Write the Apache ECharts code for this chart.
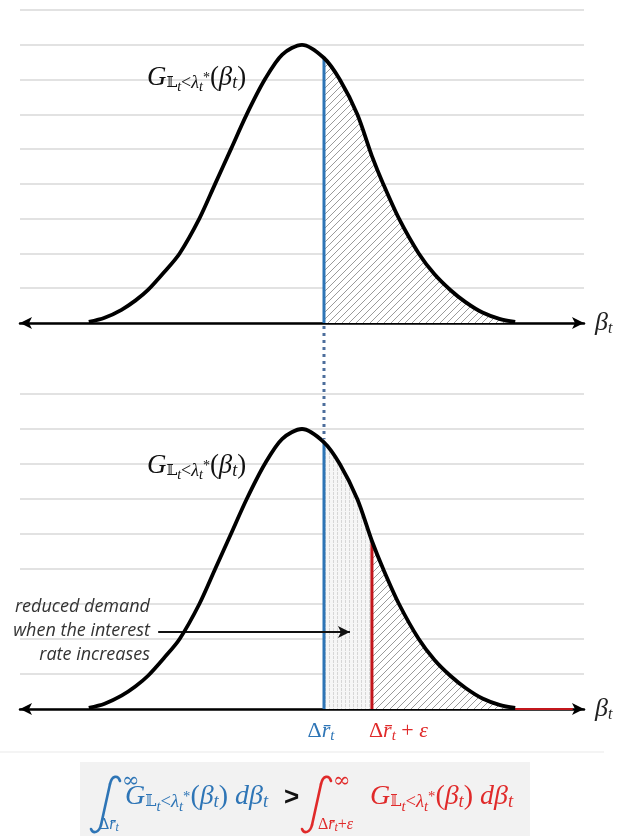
<!DOCTYPE html>
<html><head><meta charset="utf-8">
<script src="https://cdn.jsdelivr.net/npm/echarts/dist/echarts.min.js"></script>
<style>html,body{margin:0;padding:0;background:#fff}#c{width:619px;height:836px}</style>
</head><body><div id="c"></div>
<script>
// ---- data (x: 0..100 along the axis, y: gridline units 0..9) ----
const curveX = [12.2, 15, 18, 20.5, 22.7, 25.5, 28.3, 31.8, 34.6, 37.4, 40.2, 43.4, 46.5, 50, 53.9, 56.7, 59.8, 62.4, 64.4, 67.2, 70.7, 73.5, 76.3, 79, 82, 85, 87.8];
const curveY = [0.03, 0.15, 0.38, 0.65, 0.95, 1.45, 2, 3, 4, 5, 6, 7, 7.72, 8, 7.62, 7, 6, 4.8, 4, 3, 2, 1.4, 0.95, 0.6, 0.3, 0.12, 0.03];
const blueX = 53.9;      // Δr̄_t
const redX = 62.4;       // Δr̄_t + ε
const axisEndX = 98;     // end of red axis segment (lower panel)
const arrowFrom = [24.5, 2.2];  // annotation arrow (lower panel)
const arrowTo = [58.5, 2.2];
const yTicks = [0, 1, 2, 3, 4, 5, 6, 7, 8, 9];

const BLUE = '#2e75b6', RED = '#e02a2a', LINE_RED = '#c3161c';

const pts = curveX.map((x, i) => [x, curveY[i]]);
const yAt = x => curveY[curveX.indexOf(x)];

function makeHatch() {
  const n = 7;
  const c = document.createElement('canvas'); c.width = n; c.height = n;
  const g = c.getContext('2d');
  g.fillStyle = '#fff'; g.fillRect(0, 0, n, n);
  g.strokeStyle = '#9a9a9a'; g.lineWidth = 1;
  g.beginPath(); g.moveTo(0, n); g.lineTo(n, 0); g.moveTo(-1, 1); g.lineTo(1, -1); g.moveTo(n - 1, n + 1); g.lineTo(n + 1, n - 1); g.stroke();
  return c;
}
function makeStipple() {
  const c = document.createElement('canvas'); c.width = 4; c.height = 4;
  const g = c.getContext('2d');
  g.fillStyle = '#f6f6f6'; g.fillRect(0, 0, 4, 4);
  g.fillStyle = '#d6d6d6'; g.fillRect(1, 0, 1, 3);
  return c;
}
const hatch = { image: makeHatch(), repeat: 'repeat' };
const stipple = { image: makeStipple(), repeat: 'repeat' };

const serif = 'Liberation Serif';
function xAx(gi) {
  return {
    gridIndex: gi, type: 'value', min: 0, max: 100,
    axisLine: { show: true, onZero: false, symbol: ['arrow', 'arrow'], symbolSize: [9, 12], lineStyle: { color: '#000', width: 2.5 } },
    axisTick: { show: false }, axisLabel: { show: false }, splitLine: { show: false },
    name: '{b|β}{s|t}', nameLocation: 'end', nameGap: 11,
    nameTextStyle: { rich: {
      b: { fontFamily: serif, fontStyle: 'italic', fontSize: 26, color: '#222', lineHeight: 28, verticalAlign: 'middle' },
      s: { fontFamily: serif, fontStyle: 'italic', fontSize: 16, color: '#222', lineHeight: 15, verticalAlign: 'bottom' }
    } }
  };
}
function yAx(gi) {
  return {
    gridIndex: gi, type: 'value', min: yTicks[0], max: yTicks[yTicks.length - 1], interval: 1,
    axisLine: { show: false }, axisTick: { show: false }, axisLabel: { show: false },
    splitLine: { show: true, lineStyle: { color: '#d9d9d9', width: 1.5 } }
  };
}
function curve(gi) {
  return { type: 'line', xAxisIndex: gi, yAxisIndex: gi, data: pts, smooth: 0.3, symbol: 'none', silent: true,
    lineStyle: { color: '#000', width: 3.8 }, z: 6 };
}
function area(gi, from, to, pattern) {
  return { type: 'line', xAxisIndex: gi, yAxisIndex: gi, data: pts.filter(p => p[0] >= from && p[0] <= to),
    smooth: 0.3, symbol: 'none', silent: true, lineStyle: { width: 0 }, areaStyle: { color: pattern, opacity: 1 }, z: 2 };
}
function vline(gi, x, color) {
  return { type: 'line', xAxisIndex: gi, yAxisIndex: gi, data: [[x, 0], [x, yAt(x)]], symbol: 'none', silent: true,
    lineStyle: { color: color, width: 3 }, z: 4 };
}

const chart = echarts.init(document.getElementById('c'), null, { renderer: 'canvas' });
chart.setOption({
  animation: false,
  backgroundColor: '#fff',
  grid: [
    { left: 20, width: 564, top: 10, height: 313, outerBoundsMode: 'none', containLabel: false },
    { left: 20, width: 564, top: 394, height: 315, outerBoundsMode: 'none', containLabel: false }
  ],
  xAxis: [xAx(0), xAx(1)],
  yAxis: [yAx(0), yAx(1)],
  series: [
    area(0, blueX, 1000, hatch),
    vline(0, blueX, BLUE),
    curve(0),
    area(1, blueX, redX, stipple),
    area(1, redX, 1000, hatch),
    vline(1, blueX, BLUE),
    vline(1, redX, LINE_RED),
    { type: 'line', xAxisIndex: 1, yAxisIndex: 1, data: [[curveX[curveX.length - 1], 0], [axisEndX, 0]], symbol: 'none', silent: true,
      lineStyle: { color: LINE_RED, width: 2 }, z: 5,
      markLine: { silent: true, symbol: ['none', 'arrow'], symbolSize: [9, 12], label: { show: false },
        lineStyle: { color: '#111', width: 2, type: 'solid' },
        data: [[{ coord: arrowFrom }, { coord: arrowTo }]] } },
    curve(1)
  ]
});

// ---- annotations ----
function gRich(color, k) {
  return {
    G: { fontFamily: serif, fontStyle: 'italic', fontSize: 21 * k, lineHeight: 26 * k, verticalAlign: 'middle', fill: color },
    u: { fontFamily: serif, fontStyle: 'normal', fontSize: 21 * k, lineHeight: 26 * k, verticalAlign: 'middle', fill: color },
    L: { fontFamily: 'DejaVu Serif', fontSize: 12 * k, lineHeight: 12 * k, verticalAlign: 'bottom', padding: [0, 0, 3 * k, 0], fill: color },
    s: { fontFamily: serif, fontStyle: 'italic', fontSize: 14 * k, lineHeight: 14 * k, verticalAlign: 'bottom', padding: [0, 0, 2 * k, 0], fill: color },
    lt: { fontFamily: serif, fontSize: 14 * k, lineHeight: 14 * k, verticalAlign: 'bottom', padding: [0, 0, 2 * k, 0], fill: color },
    ss: { fontFamily: serif, fontStyle: 'italic', fontSize: 11 * k, lineHeight: 11 * k, verticalAlign: 'bottom', fill: color },
    sup: { fontFamily: serif, fontSize: 11 * k, lineHeight: 11 * k, verticalAlign: 'middle', fill: color }
  };
}
const gText = '{G|G}{L|𝕃}{ss|t}{lt|<}{s|λ}{ss|t}{sup|*}{u|(}{G|β}{s|t}{u|)}';
const dText = '{u| }{G|dβ}{s|t}';

const p0 = chart.convertToPixel({ gridIndex: 0 }, [blueX, 0]);
const p1 = chart.convertToPixel({ gridIndex: 1 }, [blueX, yAt(blueX)]);
const lb = chart.convertToPixel({ gridIndex: 1 }, [blueX, 0]);
const lr = chart.convertToPixel({ gridIndex: 1 }, [redX, 0]);

const limRich = (color) => ({
  D: { fontFamily: serif, fontSize: 22, fill: color, lineHeight: 26, verticalAlign: 'middle' },
  r: { fontFamily: serif, fontStyle: 'italic', fontSize: 22, fill: color, lineHeight: 26, verticalAlign: 'middle' },
  t: { fontFamily: serif, fontStyle: 'italic', fontSize: 15, fill: color, lineHeight: 15, verticalAlign: 'bottom' },
  e: { fontFamily: serif, fontSize: 22, fill: color, lineHeight: 26, verticalAlign: 'middle' },
  small: { fontFamily: serif, fontSize: 16, fill: color, lineHeight: 18, verticalAlign: 'middle' },
  smalli: { fontFamily: serif, fontStyle: 'italic', fontSize: 16, fill: color, lineHeight: 18, verticalAlign: 'middle' },
  st: { fontFamily: serif, fontStyle: 'italic', fontSize: 12, fill: color, lineHeight: 12, verticalAlign: 'bottom' }
});

const sansI = { fontFamily: 'Open Sans', fontStyle: 'italic', fontSize: 18 };
function integral(x, y, color) {
  const st = { stroke: color, fill: null, lineWidth: 2.6, lineCap: 'round' };
  return { type: 'group', x: x, y: y, silent: true, children: [
    { type: 'bezierCurve', z: 5, shape: { x1: 31, y1: 5, cpx1: 29, cpy1: -1, cpx2: 23, cpy2: -1, x2: 21, y2: 8 }, style: st },
    { type: 'line', z: 5, shape: { x1: 21, y1: 8, x2: 12, y2: 49 }, style: st },
    { type: 'bezierCurve', z: 5, shape: { x1: 12, y1: 49, cpx1: 10, cpy1: 57, cpx2: 4, cpy2: 58, x2: 2, y2: 53 }, style: st }
  ] };
}

chart.setOption({
  graphic: [
    { type: 'line', silent: true, z: 1, shape: { x1: 0, y1: 752, x2: 604, y2: 752 }, style: { stroke: '#f0f0f0', lineWidth: 1.5 } },
    { type: 'line', silent: true, z: 10, shape: { x1: p0[0], y1: p0[1] + 3, x2: p1[0], y2: p1[1] - 3 },
      style: { stroke: '#4d6e9c', lineWidth: 3, lineDash: [3, 4] } },
    { type: 'text', silent: true, x: 147, y: 78, style: { text: gText, rich: gRich('#111', 1.28), verticalAlign: 'middle' } },
    { type: 'text', silent: true, x: 147, y: 466, style: { text: gText, rich: gRich('#111', 1.28), verticalAlign: 'middle' } },
    { type: 'text', silent: true, x: 150, y: 607, style: Object.assign({ text: 'reduced demand', fill: '#333', align: 'right', verticalAlign: 'middle' }, sansI) },
    { type: 'text', silent: true, x: 150, y: 631, style: Object.assign({ text: 'when the interest', fill: '#333', align: 'right', verticalAlign: 'middle' }, sansI) },
    { type: 'text', silent: true, x: 150, y: 655, style: Object.assign({ text: 'rate increases', fill: '#333', align: 'right', verticalAlign: 'middle' }, sansI) },
    { type: 'text', silent: true, x: lb[0] - 3, y: lb[1] + 22, style: { text: '{D|Δ}{r|r\u0304}{t|t}', rich: limRich(BLUE), align: 'center', verticalAlign: 'middle' } },
    { type: 'text', silent: true, x: lr[0] - 3, y: lr[1] + 22, style: { text: '{D|Δ}{r|r\u0304}{t|t}{e| + }{r|ε}', rich: limRich(RED), align: 'left', verticalAlign: 'middle' } },
    // formula box
    { type: 'rect', silent: true, z: 1, shape: { x: 80, y: 762, width: 450, height: 80 }, style: { fill: '#f2f2f2' } },
    integral(89, 776, BLUE),
    { type: 'text', silent: true, z: 3, x: 122, y: 782, style: { text: '∞', fill: BLUE, font: '21px "DejaVu Serif"', verticalAlign: 'middle' } },
    { type: 'text', silent: true, z: 3, x: 99, y: 825, style: { text: '{small|Δ}{smalli|r\u0304}{st|t}', rich: limRich(BLUE), verticalAlign: 'middle' } },
    { type: 'text', silent: true, z: 3, x: 125, y: 797, style: { text: gText + dText, rich: gRich(BLUE, 1.33), verticalAlign: 'middle' } },
    { type: 'text', silent: true, z: 3, x: 284, y: 798, style: { text: '>', fill: '#111', font: 'bold 26px "Liberation Sans"', verticalAlign: 'middle' } },
    integral(300, 776, RED),
    { type: 'text', silent: true, z: 3, x: 333, y: 782, style: { text: '∞', fill: RED, font: '21px "DejaVu Serif"', verticalAlign: 'middle' } },
    { type: 'text', silent: true, z: 3, x: 318, y: 825, style: { text: '{small|Δ}{smalli|r\u0304}{st|t}{small|+}{smalli|ε}', rich: limRich(RED), verticalAlign: 'middle' } },
    { type: 'text', silent: true, z: 3, x: 370, y: 797, style: { text: gText + dText, rich: gRich(RED, 1.33), verticalAlign: 'middle' } }
  ]
});
</script>
</body></html>
